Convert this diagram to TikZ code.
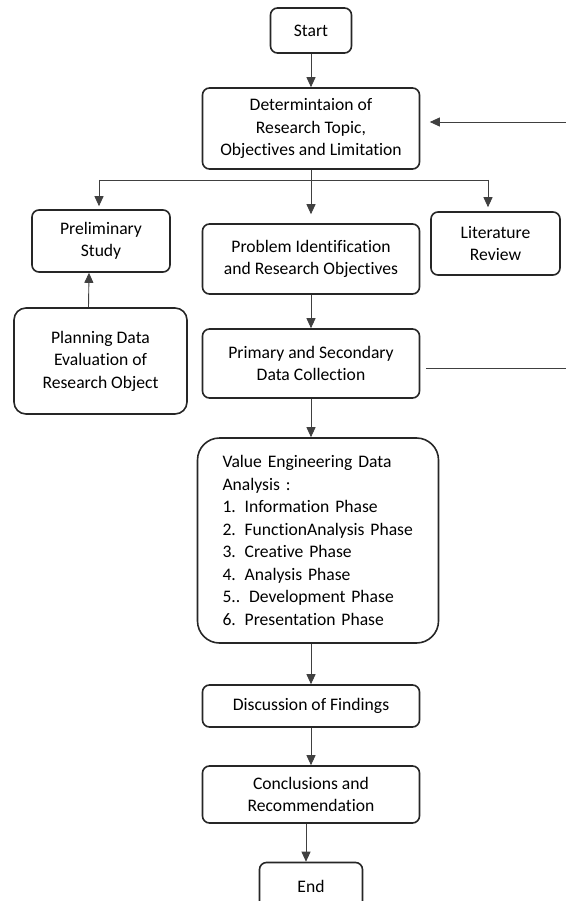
\documentclass[tikz,border=0pt]{standalone}
\usepackage{fontspec}
\setmainfont{Carlito}[Ligatures=NoCommon]
\usetikzlibrary{arrows.meta}
\usetikzlibrary{positioning}
\tikzset{stepbox/.style = {draw=black!85, rounded corners=7pt, line width=1.6pt, align=center, inner sep=0pt, font=\fontsize{17.6}{22.5}\selectfont}}
\tikzset{link/.style = {draw=black!75, line width=0.9pt}}
\tikzset{flow/.style = {link, -{Triangle[length=10pt, width=9pt]}}}

\begin{document}
\begin{tikzpicture}[x=1pt, y=-1pt]
      \useasboundingbox (0,0) rectangle (565,901);

      \node [stepbox, minimum width=81, minimum height=45] (start) at (311, 30.5) {Start};
      \node [stepbox, minimum width=217, minimum height=81] (det) at (311, 128.5)
            {Determintaion of\\Research Topic,\\Objectives and Limitation};

      \node [stepbox, minimum width=138, minimum height=62] (prelim) at (101, 241) {Preliminary\\Study};
      \node [stepbox, minimum width=217, minimum height=70] (prob) at (311, 259)
            {Problem Identification\\and Research Objectives};
      \node [stepbox, minimum width=129, minimum height=63] (lit) at (495.5, 243.5) {Literature\\Review};

      \node [stepbox, rounded corners=12pt, minimum width=173, minimum height=106] (plan) at (100.5, 361)
            {Planning Data\\Evaluation of\\Research Object};
      \node [stepbox, minimum width=217, minimum height=69] (prim) at (311, 363.5)
            {Primary and Secondary\\Data Collection};

      \node [stepbox, rounded corners=22pt, align=left, text width=191, minimum width=241, minimum height=205] (ve) at (318, 540.5)
            {Value Engineering Data\\Analysis :\\1. Information Phase\\2. FunctionAnalysis Phase\\3. Creative Phase\\4. Analysis Phase\\5.. Development Phase\\6. Presentation Phase};

      \node [stepbox, minimum width=217, minimum height=42] (disc) at (311, 706) {Discussion of Findings};
      \node [stepbox, minimum width=217, minimum height=57] (concl) at (311, 794.5) {Conclusions and\\Recommendation};
      \node [stepbox, minimum width=103, minimum height=47] (finish) at (311, 886) {End};

      % fork below the topic box
      \coordinate (fork) at (311, 180);
      \coordinate (forkL) at (99, 180);
      \coordinate (forkR) at (488, 180);
      \coordinate (loop) at (572, 122);

      \draw [flow] (start) -- (det);
      \draw [link] (det.south) -- (fork);
      \draw [link] (forkL) -- (forkR);
      \draw [flow, shorten >=3pt] (forkL) -- (forkL |- prelim.north);
      \draw [flow, shorten >=9pt] (fork) -- (prob.north);
      \draw [flow, shorten >=4pt] (forkR) -- (forkR |- lit.north);

      \draw [flow] ([xshift=-12pt]plan.north) -- ([xshift=-12pt]prelim.south);
      \draw [flow] (prob) -- (prim);
      \draw [flow] (prim.south) -- (prim.south |- ve.north);
      \draw [flow] (ve.south -| disc) -- (disc.north);
      \draw [flow] (disc) -- (concl);
      \draw [flow] ([xshift=-5pt]concl.south) -- ([xshift=-5pt]finish.north);

      % loop back to the topic box
      \draw [flow, shorten <=5.5pt, shorten >=9.5pt] ([yshift=-4.5pt]prim.east) -| (loop) -- ([yshift=6.5pt]det.east);
\end{tikzpicture}
\end{document}
